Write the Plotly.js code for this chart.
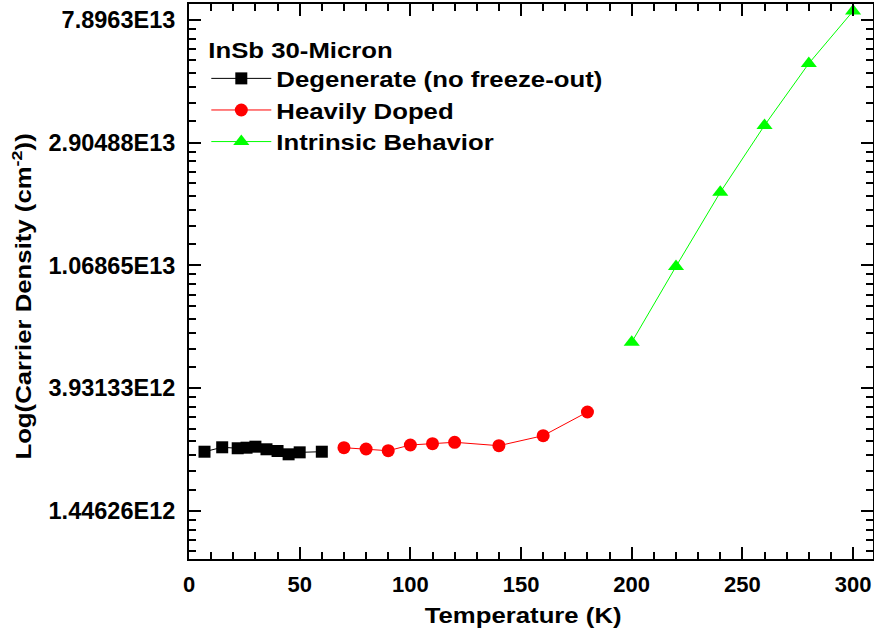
<!DOCTYPE html>
<html>
<head>
<meta charset="utf-8">
<script src="https://cdn.plot.ly/plotly-3.0.1.min.js"></script>
<style>
html,body{margin:0;padding:0;background:#fff;}
#chart{width:874px;height:636px;}
/* the reference's lettering is drawn wider than regular Arial Bold */
#chart .legendtext, #chart .legendtitletext {
  transform-box: fill-box; transform-origin: 0% 50%; transform: scaleX(1.17);
}
#chart .annotation-text {
  transform-box: fill-box; transform-origin: 50% 50%; transform: scaleX(1.17);
}
#chart .legend .scrollbox { clip-path: none; }
</style>
</head>
<body>
<div id="chart"></div>
<script>
// Data
const degT = [7, 15, 22, 26, 30, 35, 40, 45, 50, 60];
const degN = [2.344e12, 2.430e12, 2.411e12, 2.422e12, 2.442e12, 2.391e12, 2.358e12, 2.295e12, 2.332e12, 2.344e12];
const dopT = [70, 80, 90, 100, 110, 120, 140, 160, 180];
const dopN = [2.422e12, 2.396e12, 2.363e12, 2.476e12, 2.502e12, 2.531e12, 2.462e12, 2.671e12, 3.239e12];
const intT = [200, 220, 240, 260, 280, 300];
const intN = [5.72e12, 1.060e13, 1.94e13, 3.345e13, 5.54e13, 8.49e13];

const yTickVals = [1.44626e12, 3.93133e12, 1.06865e13, 2.90488e13, 7.8963e13];
const yTickText = ['1.44626E12', '3.93133E12', '1.06865E13', '2.90488E13', '7.8963E13'];
const xTickVals = [0, 50, 100, 150, 200, 250, 300];

// minor ticks: 8 evenly spaced values between successive major ticks (axis decoration)
const yMinor = [];
const majors = [5.32048e11].concat(yTickVals).concat([2.14644e14]);
for (let i = 0; i < majors.length - 1; i++) {
  const a = majors[i], b = majors[i + 1];
  for (let k = 1; k <= 8; k++) yMinor.push(a + k * (b - a) / 9);
}

const FONT = 'Liberation Sans, Arial, sans-serif';

const traces = [
  {x: degT, y: degN, name: 'Degenerate (no freeze-out)', mode: 'lines+markers',
   line: {color: '#000000', width: 1}, marker: {symbol: 'square', size: 12, color: '#000000'}},
  {x: dopT, y: dopN, name: 'Heavily Doped', mode: 'lines+markers',
   line: {color: '#ff0000', width: 1}, marker: {symbol: 'circle', size: 13, color: '#ff0000'}},
  {x: intT, y: intN, name: 'Intrinsic Behavior', mode: 'lines+markers',
   line: {color: '#00ff00', width: 1}, marker: {symbol: 'triangle-up', size: 14, color: '#00ff00'}}
];

const layout = {
  width: 874, height: 636,
  margin: {l: 189, r: 1, t: 4, b: 77},
  paper_bgcolor: '#ffffff', plot_bgcolor: '#ffffff',
  font: {family: FONT, size: 22, color: '#000000', weight: 'bold'},
  showlegend: true,
  legend: {
    x: 0.0253, y: 0.955, xanchor: 'left', yanchor: 'top',
    bgcolor: 'rgba(0,0,0,0)', borderwidth: 0,
    font: {family: FONT, size: 22, color: '#000000', weight: 'bold'},
    title: {text: 'InSb 30-Micron', font: {family: FONT, size: 22, color: '#000000', weight: 'bold'}},
    itemwidth: 60, tracegroupgap: 0
  },
  xaxis: {
    range: [0, 309], showgrid: false, zeroline: false,
    showline: true, linecolor: '#000', linewidth: 2, mirror: 'allticks',
    ticks: 'inside', ticklen: 12, tickwidth: 2, tickcolor: '#000',
    tickmode: 'array', tickvals: xTickVals, ticktext: xTickVals.map(String),
    minor: {dtick: 10, tick0: 0, ticks: 'inside', ticklen: 7, tickwidth: 2, tickcolor: '#000'},
    tickfont: {family: FONT, size: 22, color: '#000', weight: 'bold'},
    ticklabelstandoff: 5
  },
  yaxis: {
    type: 'log', range: [11.9904, 13.9539], showgrid: false, zeroline: false,
    showline: true, linecolor: '#000', linewidth: 2, mirror: 'allticks',
    ticks: 'inside', ticklen: 12, tickwidth: 2, tickcolor: '#000',
    tickmode: 'array', tickvals: yTickVals, ticktext: yTickText,
    minor: {tickmode: 'array', tickvals: yMinor, ticks: 'inside', ticklen: 7, tickwidth: 2, tickcolor: '#000'},
    tickfont: {family: FONT, size: 23.5, color: '#000', weight: 'bold'},
    ticklabelstandoff: 7
  },
  annotations: [
    {text: 'Log(Carrier Density (cm<sup>-2</sup>))', textangle: -90, showarrow: false,
     xref: 'paper', yref: 'paper', x: -0.2442, y: 0.474, xanchor: 'center', yanchor: 'middle',
     font: {family: FONT, size: 22, color: '#000', weight: 'bold'}},
    {text: 'Temperature (K)', showarrow: false,
     xref: 'paper', yref: 'paper', x: 0.489, y: -0.101, xanchor: 'center', yanchor: 'middle',
     font: {family: FONT, size: 22, color: '#000', weight: 'bold'}}
  ]
};

Plotly.newPlot('chart', traces, layout, {displayModeBar: false, staticPlot: true});
</script>
</body>
</html>
